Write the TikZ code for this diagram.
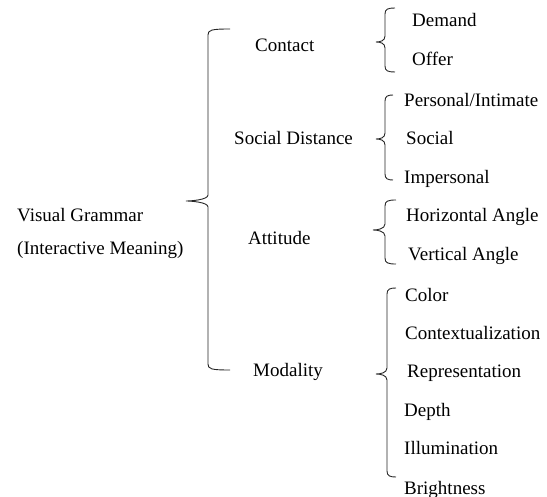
\documentclass[tikz,border=0pt]{standalone}
\usepackage{fontspec}
\setmainfont{Liberation Serif}
\newcommand\wbrace[6]{%
  \draw[bracestyle] (#1,#4) .. controls (#2+3,#4) and (#2,#4+1) .. (#2,#4+6)
    -- (#2,#5-6) .. controls (#2,#5-1) and (#3+4,#5) .. (#3,#5)
    .. controls (#3+4,#5) and (#2,#5+1) .. (#2,#5+6)
    -- (#2,#6-6) .. controls (#2,#6-1) and (#2+3,#6) .. (#1,#6);}
\begin{document}
\begin{tikzpicture}[x=1pt,y=-1pt,
  lbl/.style={anchor=base west,inner sep=0pt,font=\fontsize{19}{22}\selectfont},
  bracestyle/.style={draw=black!85,line width=0.9pt}]
\useasboundingbox (0,0) rectangle (547,497);
% root
\node[lbl] (vg) at (17,222) {Visual Grammar};
\node[lbl] (im) at (17,255) {(Interactive Meaning)};
% big brace
\wbrace{230}{208}{186}{29}{201}{370}
% level 1
\node[lbl] (contact) at (255,52) {Contact};
\node[lbl] (social) at (234,145) {Social Distance};
\node[lbl] (attitude) at (248,245) {Attitude};
\node[lbl] (modality) at (253,377) {Modality};
% braces level 2
\wbrace{395}{385}{376}{8}{42}{72}
\wbrace{393}{385}{376}{95}{139}{180}
\wbrace{396}{385}{373}{200}{230}{264}
\wbrace{396}{387}{376}{288}{374}{477}
% leaves
\node[lbl] (demand) at (412,27) {Demand};
\node[lbl] (offer) at (412,66) {Offer};
\node[lbl] (pers) at (404,107) {Personal/Intimate};
\node[lbl] (soc) at (406,145) {Social};
\node[lbl] (imp) at (404,184) {Impersonal};
\node[lbl] (hor) at (406,222) {Horizontal Angle};
\node[lbl] (ver) at (408,261) {Vertical Angle};
\node[lbl] (color) at (405,302) {Color};
\node[lbl] (ctx) at (405,340) {Contextualization};
\node[lbl] (rep) at (407,378) {Representation};
\node[lbl] (depth) at (404,417) {Depth};
\node[lbl] (ill) at (404,455) {Illumination};
\node[lbl] (bri) at (404,494) {Brightness};
\end{tikzpicture}
\end{document}
